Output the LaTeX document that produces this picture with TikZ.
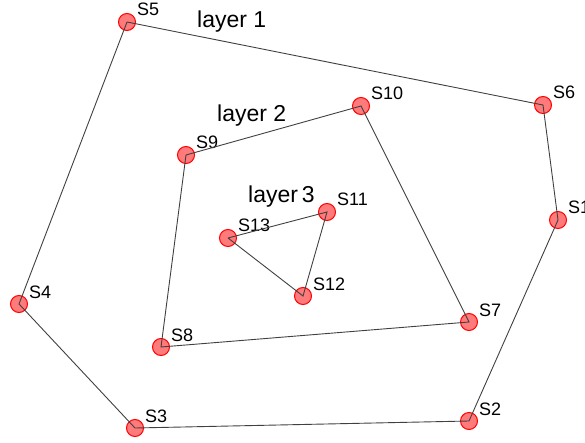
\documentclass[tikz,border=0pt]{standalone}
\usepackage{fontspec}
\setmainfont{Liberation Sans}
\usetikzlibrary{calc}

\tikzset{
  sensor/.style={circle, draw=red, line width=1pt, fill=red!80!white, fill opacity=0.65,
    draw opacity=1, minimum size=17pt, inner sep=0pt},
  sname/.style={anchor=base west, inner sep=0pt, font=\fontsize{18}{18}\selectfont},
  lname/.style={anchor=base west, inner sep=0pt, font=\fontsize{23}{23}\selectfont},
  link/.style={draw=black!75, line width=0.9pt},
}

\begin{document}
\begin{tikzpicture}[x=1pt, y=-1pt]
 \useasboundingbox (0,0) rectangle (585,443);
 % sensors
 \foreach \n/\x/\y in {1/558/220, 2/469/421, 3/135/428, 4/19/304, 5/127/22,
                       6/543/105, 7/469/322, 8/161/347, 9/186/155, 10/361/106,
                       11/327/212, 12/303/296, 13/228/238}{
   \node[sensor] (S\n) at (\x,\y) {};
   \node[sname] (L\n) at ($(S\n.center)+(10,-6)$) {S\n};
 }
 %
 \node[lname] (layer1) at (197,28) {layer 1};
 \node[lname] (layer2) at (217,122) {layer 2};
 \node[lname] (layer3) at (248,203) {layer\,3};
 % rings
 \draw[link] (S5.center) -- (S6.center) -- (S1.center) -- (S2.center)
   -- (S3.center) -- (S4.center) -- (S5.center);
 \draw[link] (S9.center) -- (S10.center) -- (S7.center) -- (S8.center) -- (S9.center);
 \draw[link] (S13.center) -- (S11.center) -- (S12.center) -- (S13.center);
\end{tikzpicture}
\end{document}
